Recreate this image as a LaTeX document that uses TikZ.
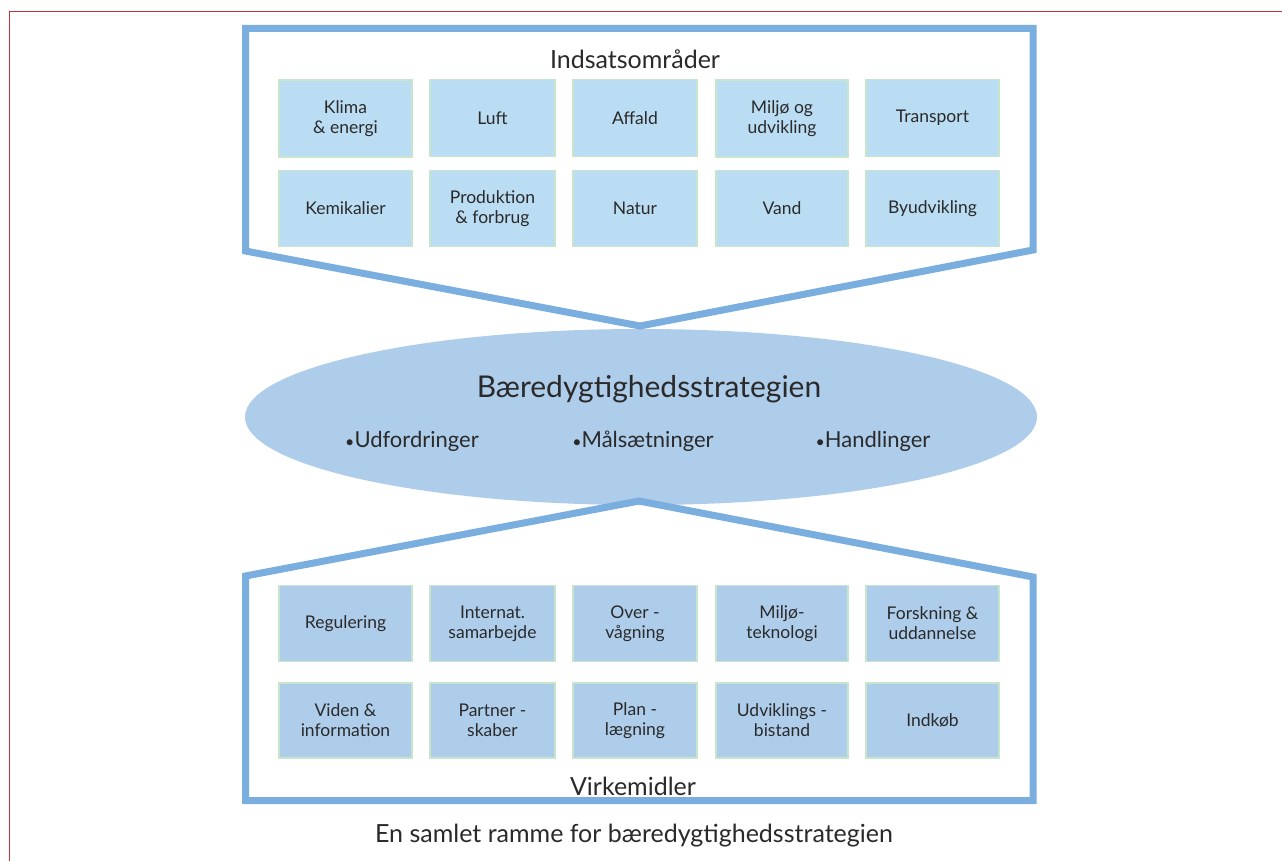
\documentclass[tikz,border=0pt]{standalone}
\usepackage{fontspec}
\setmainfont{Lato}
\usetikzlibrary{shapes.geometric}
\definecolor{frameblue}{HTML}{7AAEDF}
\definecolor{topfill}{HTML}{BBDDF3}
\definecolor{botfill}{HTML}{AECDEB}
\definecolor{boxedge}{HTML}{C6E5CB}
\definecolor{ellfill}{HTML}{AECDEB}
\definecolor{txt}{HTML}{2A2A2A}
\definecolor{pagered}{HTML}{C8323A}
\newcommand{\smbul}{{\fontsize{16}{16}\selectfont•}}
\tikzset{
  x=1pt,y=-1pt,
  cell/.style={draw=boxedge,line width=1.2pt,inner sep=0pt,align=center,
    font=\fontsize{17.5}{20}\selectfont,text=txt},
  topcell/.style={cell,fill=topfill},
  botcell/.style={cell,fill=botfill},
  outline/.style={draw=frameblue,line width=7pt,line join=miter},
  heading/.style={font=\fontsize{25}{29}\selectfont,text=txt,inner sep=0pt},
  bullet/.style={font=\fontsize{22}{26}\selectfont,text=txt,inner sep=0pt},
}
\begin{document}
\begin{tikzpicture}
\useasboundingbox (0,0) rectangle (1282,861);
\fill[white] (0,0) rectangle (1282,861);
\draw[pagered,line width=1.3pt] (9.5,861) -- (9.5,11.5) -- (1282,11.5);

% central ellipse
\node[ellipse,fill=ellfill,minimum width=792pt,minimum height=176pt,inner sep=0pt] (core) at (641,417) {};

% top frame
\coordinate (tl) at (245.5,28.5);
\coordinate (tr) at (1033,28.5);
\coordinate (trb) at (1033,250);
\coordinate (tp) at (640,326);
\coordinate (tlb) at (245.5,251);
\draw[outline] (tl) -- (tr) -- (trb) -- (tp) -- (tlb) -- cycle;

% bottom frame
\coordinate (bp) at (639,501);
\coordinate (brt) at (1033,577);
\coordinate (brb) at (1033,800.5);
\coordinate (blb) at (245.5,800.5);
\coordinate (blt) at (245.5,576);
\draw[outline] (bp) -- (brt) -- (brb) -- (blb) -- (blt) -- cycle;

% headings
\node[heading] (ind) at (635,59) {Indsatsområder};
\node[heading] (virk) at (633,786) {Virkemidler};
\node[heading] (cap) at (634,836) {En samlet ramme for bæredygtighedsstrategien};

\node[font=\fontsize{30}{34}\selectfont,text=txt,inner sep=0pt] (title) at (649,389) {Bæredygtighedsstrategien};
\node[bullet] (b1) at (412,441) {\smbul Udfordringer};
\node[bullet] (b2) at (643,441) {\smbul Målsætninger};
\node[bullet] (b3) at (873,441) {\smbul Handlinger};

% top cells
\node[topcell,minimum width=133pt,minimum height=77pt] (t11) at (345.5,118.5) {Klima\\\& energi};
\node[topcell,minimum width=125pt,minimum height=77pt] (t12) at (492.5,118) {Luft};
\node[topcell,minimum width=124pt,minimum height=77pt] (t13) at (635,118) {Affald};
\node[topcell,minimum width=132pt,minimum height=77pt] (t14) at (782,118.5) {Miljø og\\udvikling};
\node[topcell,minimum width=133pt,minimum height=77pt] (t15) at (932.5,118) {Transport};
\node[topcell,minimum width=133pt,minimum height=76pt] (t21) at (345.5,208.5) {Kemikalier};
\node[topcell,minimum width=125pt,minimum height=76pt] (t22) at (492.5,208.5) {Produktion\\\& forbrug};
\node[topcell,minimum width=124pt,minimum height=76pt] (t23) at (635,208.5) {Natur};
\node[topcell,minimum width=132pt,minimum height=76pt] (t24) at (782,208.5) {Vand};
\node[topcell,minimum width=133pt,minimum height=76pt] (t25) at (932.5,208.5) {Byudvikling};

% bottom cells
\node[botcell,minimum width=133pt,minimum height=76pt] (b11) at (345.5,623.5) {Regulering};
\node[botcell,minimum width=125pt,minimum height=76pt] (b12) at (492.5,623.5) {Internat.\\samarbejde};
\node[botcell,minimum width=124pt,minimum height=76pt] (b13) at (635,623.5) {Over -\\vågning};
\node[botcell,minimum width=132pt,minimum height=76pt] (b14) at (782,623.5) {Miljø-\\teknologi};
\node[botcell,minimum width=133pt,minimum height=76pt] (b15) at (932.5,623.5) {Forskning \&\\uddannelse};
\node[botcell,minimum width=133pt,minimum height=75pt] (b21) at (345.5,720.5) {Viden \&\\information};
\node[botcell,minimum width=125pt,minimum height=75pt] (b22) at (492.5,720.5) {Partner -\\skaber};
\node[botcell,minimum width=124pt,minimum height=75pt] (b23) at (635,720.5) {Plan -\\lægning};
\node[botcell,minimum width=132pt,minimum height=75pt] (b24) at (782,720.5) {Udviklings -\\bistand};
\node[botcell,minimum width=133pt,minimum height=75pt] (b25) at (932.5,720.5) {Indkøb};
\end{tikzpicture}
\end{document}
